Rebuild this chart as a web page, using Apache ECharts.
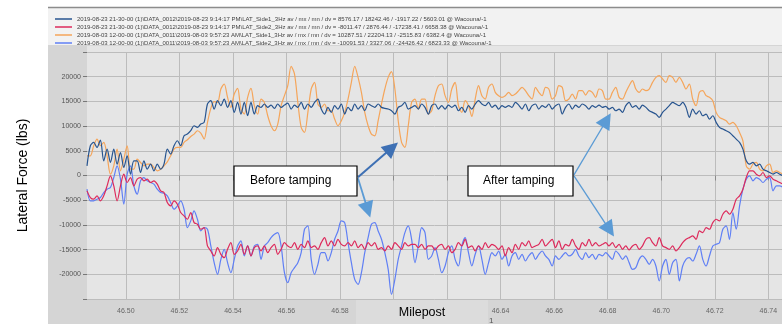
<!DOCTYPE html>
<html>
<head>
<meta charset="utf-8">
<script src="https://cdn.jsdelivr.net/npm/echarts@6.0.0/dist/echarts.min.js"></script>
<style>
  html, body { margin: 0; padding: 0; background: #fff; }
  #chart { width: 782px; height: 324px; }
</style>
</head>
<body>
<div id="chart"></div>
<script>
// sample positions along the track (milepost)
const mileposts = [
  46.4855, 46.48675, 46.488, 46.48925, 46.4905, 46.49175, 46.493, 46.49425,
  46.4955, 46.49675, 46.498, 46.49925, 46.5005, 46.50175, 46.503, 46.50425,
  46.5055, 46.50675, 46.508, 46.50925, 46.5105, 46.51175, 46.513, 46.51425,
  46.5155, 46.51675, 46.518, 46.51925, 46.5205, 46.52175, 46.523, 46.52425,
  46.5255, 46.52675, 46.528, 46.52925, 46.5305, 46.53175, 46.533, 46.53425,
  46.5355, 46.53675, 46.538, 46.53925, 46.5405, 46.54175, 46.543, 46.54425,
  46.5455, 46.54675, 46.548, 46.54925, 46.5505, 46.55175, 46.553, 46.55425,
  46.5555, 46.55675, 46.558, 46.55925, 46.5605, 46.56175, 46.563, 46.56425,
  46.5655, 46.56675, 46.568, 46.56925, 46.5705, 46.57175, 46.573, 46.57425,
  46.5755, 46.57675, 46.578, 46.57925, 46.5805, 46.58175, 46.583, 46.58425,
  46.5855, 46.58675, 46.588, 46.58925, 46.5905, 46.59175, 46.593, 46.59425,
  46.5955, 46.59675, 46.598, 46.59925, 46.6005, 46.60175, 46.603, 46.60425,
  46.6055, 46.60675, 46.608, 46.60925, 46.6105, 46.61175, 46.613, 46.61425,
  46.6155, 46.61675, 46.618, 46.61925, 46.6205, 46.62175, 46.623, 46.62425,
  46.6255, 46.62675, 46.628, 46.62925, 46.6305, 46.63175, 46.633, 46.63425,
  46.6355, 46.63675, 46.638, 46.63925, 46.6405, 46.64175, 46.643, 46.64425,
  46.6455, 46.64675, 46.648, 46.64925, 46.6505, 46.65175, 46.653, 46.65425,
  46.6555, 46.65675, 46.658, 46.65925, 46.6605, 46.66175, 46.663, 46.66425,
  46.6655, 46.66675, 46.668, 46.66925, 46.6705, 46.67175, 46.673, 46.67425,
  46.6755, 46.67675, 46.678, 46.67925, 46.6805, 46.68175, 46.683, 46.68425,
  46.6855, 46.68675, 46.688, 46.68925, 46.6905, 46.69175, 46.693, 46.69425,
  46.6955, 46.69675, 46.698, 46.69925, 46.7005, 46.70175, 46.703, 46.70425,
  46.7055, 46.70675, 46.708, 46.70925, 46.7105, 46.71175, 46.713, 46.71425,
  46.7155, 46.71675, 46.718, 46.71925, 46.7205, 46.72175, 46.723, 46.72425,
  46.7255, 46.72675, 46.728, 46.72925, 46.7305, 46.73175, 46.733, 46.73425,
  46.7355, 46.73675, 46.738, 46.73925, 46.7405, 46.74175, 46.743, 46.74425,
  46.7455
];

// 2019-08-23 (after tamping), side 1
const side1After = [
  1960, 6020, 6690, 5680, 7170, 2970, 5340, 2640, 5340, 2300, 4660, 1620, 3990, 270, 2970, 2970, 610, 2970, 1280, 2300,
  950, 2300, 1280, 2300, 5340, 4330, 6020, 7030, 6020, 8040, 8380, 9060, 10070, 9730, 10410, 10750, 14470, 15140, 13450, 15140,
  14130, 15480, 13790, 15140, 12780, 14800, 12440, 14800, 12100, 14800, 12440, 14130, 13790,
  14470, 13790, 14260, 13590, 14470, 13790, 14260, 14670, 13450, 14260, 13790, 14800, 13450, 14470, 13790, 14800, 15480, 13450, 12440, 13790,
  12780, 14130, 13450, 14470, 12440, 13790, 13110, 14470, 13450, 14130, 13110, 14470, 14130, 13790, 14470, 13790, 13590, 13450, 13110, 12440,
  13790, 14130, 14800, 13450, 13790, 14130, 13450, 14470, 13790, 12440, 14130, 14470,
  13450, 14130, 13450, 14260, 13790, 14260, 13110, 13790, 12780, 14130, 13450, 14470, 15140, 14470, 14130, 14800, 13790, 14260, 13450, 14130,
  13790, 14130, 13790, 14800, 14260, 13450, 14470, 13110, 14130, 14470, 13450, 14130, 13790, 14470, 13450, 14130, 14470, 12440, 13790, 14470,
  13450, 14260, 13790, 14470, 14130, 13450, 14130, 13790, 14260, 13790, 13990,
  13450, 13790, 13110, 13450, 12780, 14130, 14800, 13790, 14130, 13450, 14260, 13790, 13110, 12780, 12440, 11760, 12780, 13450, 14130, 14800,
  14470, 14130, 14800, 13790, 11760, 13450, 12440, 13110, 12100, 12440, 11420, 12100, 10750, 9730, 9400, 9060, 8720, 8040, 7370, 6690,
  5340, 2970, 2300, 2640, 1960, 2300, 1280, 950, 610, 270, 610, 270, -70
];

// 2019-08-23 (after tamping), side 2
const side2After = [
  -3110, -4460, -4800, -4120, -5140, -4120, -2100, -70, -2100, -5140, -2100, 270, -1420, -410, -2100, -740, -410, -1080, -740, -1420,
  -1080, -1760, -3110, -3450, -5480, -6150, -5140, -5810, -7500, -8180, -8860, -7500, -9530, -9870, -10880, -10550, -14260, -15280, -16290, -14600,
  -15950, -16630, -14940, -13590, -15950, -15280, -13930, -15950, -14260, -16290, -14600, -14260, -15280,
  -14260, -15620, -14600, -13930, -15950, -14940, -13590, -14260, -14600, -13590, -14940, -13930, -14600, -13250, -14600, -14260, -14940, -13590, -12570, -14260,
  -13250, -14260, -12910, -13930, -14260, -13590, -14260, -13250, -14600, -13930, -14940, -13590, -14260, -13590, -14940, -14600, -15280, -14260, -14940, -13590,
  -14260, -14940, -13590, -14260, -13930, -13930, -14600, -13930, -14940, -14260, -14260, -15080,
  -14260, -13930, -14940, -14260, -15620, -14940, -13590, -14260, -12910, -14600, -14260, -15280, -14260, -14940, -13590, -14600, -13930, -14260, -14940, -14260,
  -16290, -14600, -15620, -13930, -14940, -13590, -14260, -13250, -14600, -14260, -13930, -12910, -14260, -13590, -12910, -14600, -13250, -14940, -13930, -14260,
  -12910, -14260, -14940, -13590, -14260, -12910, -14260, -13590, -14260, -13930, -13590,
  -14260, -13590, -14600, -13930, -14940, -14260, -15080, -14260, -13930, -14940, -14260, -12910, -12570, -13590, -14260, -12570, -14260, -14600, -14940, -14260,
  -15280, -14600, -13590, -12910, -12570, -12240, -12910, -11220, -11560, -10550, -10880, -9530, -8860, -9190, -7840, -7170, -7840, -6830, -4800, -4120,
  -2770, -410, 950, 950, 270, -70, 610, -410, -70, -740, -1080, -1420, -1760
];

// 2019-08-03 (before tamping), side 1
const side1Before = [
  3990, 3990, 6020, 7370, 6020, 6690, 3990, 270, 1960, 5340, 950, 3310, 6020, 1280, 1280, 3310, 2640, 1960, 2300, 2300,
  1620, 950, 1280, 1960, 2770, 3990, 5340, 5680, 5680, 6690, 7230, 7910, 8380, 9060, 8590, 7370, 10750, 13590, 14940, 14800,
  17510, 18520, 15820, 13790, 16490, 17640, 13450, 12440, 15820, 17640, 14130, 12440, 15480,
  14800, 12100, 10070, 9060, 10410, 14130, 16160, 18180, 22110, 20550, 14800, 9730, 8720, 12780, 17510, 18860, 14470, 13790, 14470, 13110,
  13110, 11420, 10070, 11090, 12780, 15480, 18860, 22110, 19870, 16830, 12780, 10070, 8380, 8040, 11090, 14470, 17510, 19870, 21020, 17510,
  11090, 6690, 5680, 10070, 14800, 15480, 13450, 15480, 15480, 12440, 13110, 16160,
  18180, 18520, 16160, 14800, 17510, 18860, 14130, 12780, 15140, 14130, 11970, 15480, 18180, 16160, 15480, 17850, 18520, 16830, 16160, 15820,
  16160, 16830, 16160, 16490, 17170, 17850, 17170, 16160, 15480, 17850, 16830, 16160, 17850, 17510, 15480, 16160, 18180, 17850, 15140, 15480,
  16490, 15480, 17170, 17170, 16290, 17170, 16830, 15820, 17510, 17170, 15480,
  15480, 16830, 17850, 15820, 15480, 16830, 18180, 19200, 17510, 16830, 17510, 17170, 17510, 18860, 19870, 20210, 19540, 18860, 20210, 19870,
  18860, 19870, 18860, 17510, 18520, 15480, 14130, 16830, 17170, 16160, 15820, 15140, 12780, 11760, 11420, 11090, 10410, 10750, 10070, 8720,
  7030, 1960, 1280, 2300, 2640, 1280, 950, 1960, 2300, 610, 950, 610, 270
];

// 2019-08-03 (before tamping), side 2
const side2Before = [
  -2770, -5140, -5140, -4800, -4460, -3450, -2770, -2430, -410, 1960, -740, -5810, 270, 1960, -2100, -3790, -1080, -410, -1080, -1420,
  -1760, -2770, -3450, -3580, -4120, -5480, -6830, -6150, -5140, -6830, -10550, -9190, -7170, -8860, -11220, -10550, -10880, -14260, -17640, -20010,
  -16970, -14940, -17640, -19670, -16970, -14260, -13250, -16290, -14260, -16290, -14260, -13930, -16970,
  -14260, -13590, -12570, -11900, -11560, -14260, -19670, -21700, -19670, -18660, -17640, -15620, -10880, -10210, -16970, -20010, -17980, -15620, -15620, -17310,
  -15620, -12910, -11220, -9190, -9530, -13590, -17640, -21020, -22040, -19670, -15620, -12570, -9870, -9530, -11220, -12910, -15620, -19000, -24070, -21020,
  -16970, -14260, -11560, -10210, -12910, -17640, -14260, -10550, -11560, -16970, -16290, -14600,
  -16970, -19670, -18320, -15620, -14260, -16970, -18320, -14260, -12570, -15620, -18320, -15950, -14260, -16970, -20010, -17640, -15620, -16290, -15280, -16970,
  -15950, -18320, -16290, -15620, -16970, -15950, -17310, -16290, -15620, -16970, -15950, -15280, -16290, -16970, -18320, -16290, -16970, -16290, -15620, -16290,
  -15950, -14940, -16290, -16970, -15620, -16630, -15950, -16970, -15950, -16290, -15620,
  -16290, -16970, -15280, -15950, -16970, -16290, -17640, -19000, -18660, -16970, -16290, -16970, -17980, -16970, -18320, -21360, -18320, -16970, -20010, -17640,
  -16970, -21360, -18320, -16970, -16630, -17310, -15950, -14260, -16970, -18320, -16290, -14260, -13930, -13590, -10880, -10210, -12910, -7500, -10880, -6150,
  -2770, -740, -70, -1080, -410, -740, -1420, -740, -410, -3110, -2100, -2100, -2430
];

const xTicks = [46.50, 46.52, 46.54, 46.56, 46.58, 46.60, 46.62, 46.64, 46.66, 46.68, 46.70, 46.72, 46.74];

const names = [
  '2019-08-23 21-30-00 (1)\\DATA_0012\\2019-08-23 9:14:17 PM\\LAT_Side1_3Hz av / mx / mn / dv = 8576.17 / 18242.46 / -1917.22 / 5603.01 @ Wacouna/-1',
  '2019-08-23 21-30-00 (1)\\DATA_0012\\2019-08-23 9:14:17 PM\\LAT_Side2_3Hz av / mx / mn / dv = -8011.47 / 2876.44 / -17238.41 / 6658.38 @ Wacouna/-1',
  '2019-08-03 12-00-00 (1)\\DATA_0011\\2019-08-03 9:57:23 AM\\LAT_Side1_3Hz av / mx / mn / dv = 10287.51 / 22204.13 / -2515.83 / 6382.4 @ Wacouna/-1',
  '2019-08-03 12-00-00 (1)\\DATA_0011\\2019-08-03 9:57:23 AM\\LAT_Side2_3Hz av / mx / mn / dv = -10091.53 / 3327.06 / -24426.42 / 6823.33 @ Wacouna/-1'
];
const colors = ['#27548f', '#dd2a5b', '#f5a55a', '#5f7ff5'];

// annotation arrows, in data coordinates (from box edge to arrow head)
const arrows = [
  { from: [46.5867, -360], to: [46.5994, 5630], color: '#3e70b4', width: 2 },
  { from: [46.5867, -570], to: [46.5904, -6960], color: '#5b9bd5', width: 1.8 },
  { from: [46.6674, 140], to: [46.6796, 11230], color: '#5b9bd5', width: 1.3 },
  { from: [46.6674, -60], to: [46.6807, -10990], color: '#5b9bd5', width: 1.3 }
];

const font = '"Liberation Sans", Arial, sans-serif';
const chart = echarts.init(document.getElementById('chart'));

function lineSeries(name, color, vals, z) {
  return {
    name: name,
    type: 'line',
    data: mileposts.map((m, i) => [m, vals[i]]),
    showSymbol: false,
    symbol: 'none',
    smooth: 0.3,
    lineStyle: { color: color, width: 1.2 },
    itemStyle: { color: color },
    z: z,
    silent: true
  };
}

const option = {
  backgroundColor: '#d5d5d5',
  animation: false,
  textStyle: { fontFamily: font },
  legend: {
    data: names,
    orient: 'vertical',
    left: 50,
    top: 10,
    itemWidth: 17,
    itemHeight: 1.5,
    itemGap: 0,
    icon: 'rect',
    selectedMode: false,
    textStyle: { fontSize: 6, color: '#444', lineHeight: 8, fontFamily: font }
  },
  grid: { left: 87, right: 0, top: 52, bottom: 25, show: true, backgroundColor: '#e5e5e5', borderWidth: 0 },
  xAxis: {
    type: 'value',
    min: 46.4855,
    max: 46.7451,
    axisLine: { show: false },
    axisTick: { customValues: xTicks, length: 5, lineStyle: { color: '#8a8a8a' } },
    axisLabel: { customValues: xTicks, formatter: v => v.toFixed(2), fontSize: 7, color: '#666', margin: 9 },
    splitLine: { show: true, lineStyle: { color: '#bcbcbc' } }
  },
  yAxis: {
    type: 'value',
    min: -25000,
    max: 25000,
    interval: 5000,
    name: 'Lateral Force (lbs)',
    nameLocation: 'middle',
    nameGap: 57,
    nameTextStyle: { fontSize: 14, color: '#000', fontFamily: font },
    axisLine: { show: false },
    axisTick: { show: true, length: 4, lineStyle: { color: '#777' } },
    axisLabel: { fontSize: 7, color: '#555', margin: 6, formatter: v => (Math.abs(v) >= 25000 ? '' : String(v)) },
    splitLine: { lineStyle: { color: '#bcbcbc' } }
  },
  graphic: [
    { type: 'rect', z: -10, shape: { x: 0, y: 0, width: 48, height: 324 }, style: { fill: '#fff' } },
    { type: 'rect', z: -10, shape: { x: 48, y: 0, width: 734, height: 7 }, style: { fill: '#fff' } },
    { type: 'rect', z: -10, shape: { x: 48, y: 7, width: 734, height: 38 }, style: { fill: '#f2f2f2' } },
    { type: 'line', z: -9, shape: { x1: 48, y1: 7.5, x2: 782, y2: 7.5 }, style: { stroke: '#8c8c8c', lineWidth: 1.5 } },
    { type: 'rect', z: -10, shape: { x: 87, y: 46, width: 695, height: 7 }, style: { fill: '#e5e5e5' } },
    { type: 'rect', z: 50, shape: { x: 234, y: 166, width: 123, height: 30 }, style: { fill: '#fff', stroke: '#000', lineWidth: 1.2 } },
    { type: 'text', z: 51, style: { text: 'Before tamping', x: 250, y: 181, font: '12px ' + font, fill: '#000', align: 'left', verticalAlign: 'middle', textAlign: 'left', textVerticalAlign: 'middle' } },
    { type: 'rect', z: 50, shape: { x: 468, y: 166, width: 105, height: 30 }, style: { fill: '#fff', stroke: '#000', lineWidth: 1.2 } },
    { type: 'text', z: 51, style: { text: 'After tamping', x: 483, y: 181, font: '12px ' + font, fill: '#000', align: 'left', verticalAlign: 'middle', textAlign: 'left', textVerticalAlign: 'middle' } },
    { type: 'rect', z: 100, shape: { x: 356, y: 300, width: 132, height: 24 }, style: { fill: '#dcdcdc' } },
    { type: 'text', z: 101, style: { text: 'Milepost', x: 422, y: 313, font: '12.5px ' + font, fill: '#000', align: 'center', verticalAlign: 'middle', textAlign: 'center', textVerticalAlign: 'middle' } },
    { type: 'text', z: 101, style: { text: '1', x: 489, y: 317, font: '8px ' + font, fill: '#555' } }
  ],
  series: [
    lineSeries(names[2], colors[2], side1Before, 2),
    lineSeries(names[3], colors[3], side2Before, 2),
    lineSeries(names[0], colors[0], side1After, 3),
    lineSeries(names[1], colors[1], side2After, 3),
    {
      name: 'arrows',
      type: 'line',
      data: [],
      z: 20,
      silent: true,
      markLine: {
        silent: true,
        animation: false,
        symbol: ['none', 'triangle'],
        symbolSize: 16,
        label: { show: false },
        emphasis: { disabled: true },
        data: arrows.map(a => [
          { coord: a.from, lineStyle: { color: a.color, width: a.width, type: 'solid' } },
          { coord: a.to }
        ])
      }
    }
  ]
};

chart.setOption(option);
</script>
</body>
</html>
